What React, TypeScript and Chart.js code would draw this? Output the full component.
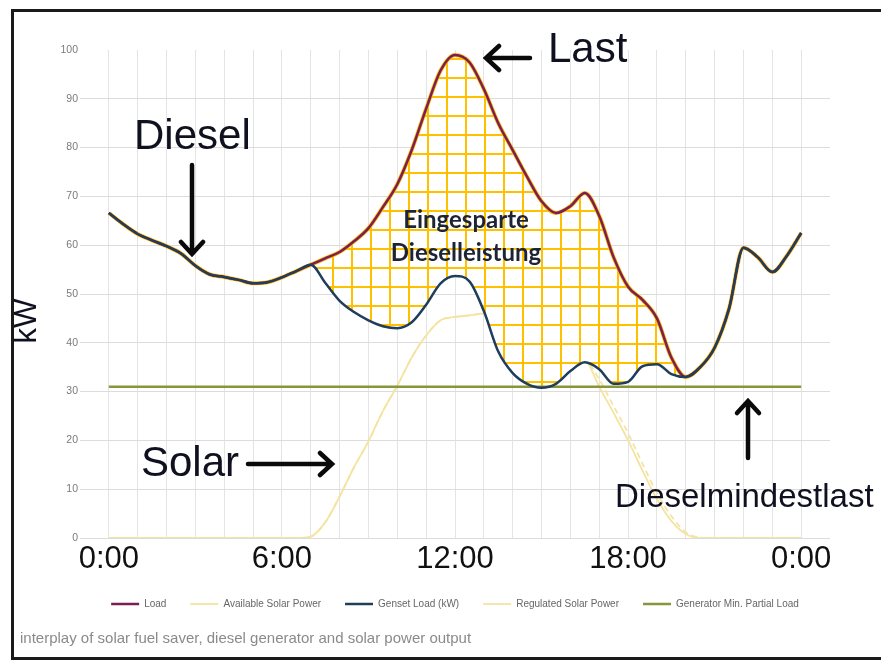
import React, { useEffect, useRef } from 'react';
import { Chart, registerables } from 'chart.js';

Chart.register(...registerables);

// ---- data ----
const hours = [
  0, 0.5, 1, 1.5, 2, 2.5, 3, 3.5, 4, 4.5, 5, 5.5, 6, 6.5, 7, 7.5, 8, 8.5, 9, 9.5,
  10, 10.5, 11, 11.5, 12, 12.5, 13, 13.5, 14, 14.5, 15, 15.5, 16, 16.5, 17, 17.5,
  18, 18.5, 19, 19.5, 20, 20.5, 21, 21.5, 22, 22.5, 23, 23.5, 24,
];

const gensetKw = [
  66.6, 64.3, 62.3, 61.0, 59.8, 58.3, 55.8, 54.0, 53.5, 52.9, 52.2, 52.4, 53.4, 54.7, 56.0, 52.3,
  48.6, 46.3, 44.6, 43.4, 43.0, 44.2, 47.8, 52.2, 53.7, 52.6, 46.5, 38.2, 33.8, 31.6, 30.8, 31.6,
  34.2, 36.0, 34.6, 31.6, 32.0, 35.2, 35.6, 33.6, 33.0, 35.0, 39.0, 47.0, 59.5, 57.5, 54.5, 57.8, 62.5,
];

const loadKw = [
  66.6, 64.3, 62.3, 61.0, 59.8, 58.3, 55.8, 54.0, 53.5, 52.9, 52.2, 52.4, 53.4, 54.7, 56.0, 57.3,
  58.6, 60.8, 63.5, 67.8, 72.5, 79.5, 88.0, 95.8, 99.0, 97.5, 92.0, 85.0, 79.5, 74.0, 69.0, 66.6,
  68.0, 70.7, 66.0, 57.5, 51.5, 48.8, 45.0, 37.0, 33.0, 35.0, 39.0, 47.0, 59.5, 57.5, 54.5, 57.8, 62.5,
];

const availableSolarKw = [
  0, 0, 0, 0, 0, 0, 0, 0, 0, 0, 0, 0, 0, 0, 0.3, 3.2,
  8.5, 14.5, 19.8, 26.0, 31.2, 37.0, 41.5, 44.6, 45.3, 45.6, 46.0, 45.5, 44.5, 43.0, 41.0, 39.3,
  37.8, 36.8, 31.0, 25.6, 20.0, 13.8, 8.0, 3.5, 0.8, 0, 0, 0, 0, 0, 0, 0, 0,
];

const regulatedSolarKw = [
  0, 0, 0, 0, 0, 0, 0, 0, 0, 0, 0, 0, 0, 0, 0.3, 3.2,
  8.5, 14.5, 19.8, 26.0, 31.2, 37.0, 41.5, 44.6, 45.3, 45.6, 46.0, 45.5, 44.5, 43.0, 41.0, 39.3,
  37.8, 36.8, 32.5, 27.0, 21.5, 15.2, 9.2, 4.5, 1.2, 0.1, 0, 0, 0, 0, 0, 0, 0,
];

const minLoadHours = [0, 24];
const minLoadKw = [31, 31];

const xTickHours = [0, 6, 12, 18, 24];
const xTickLabels = ['0:00', '6:00', '12:00', '18:00', '0:00'];

const seriesNames = [
  'Load',
  'Available Solar Power',
  'Genset Load (kW)',
  'Regulated Solar Power',
  'Generator Min. Partial Load',
];

const caption = 'interplay of solar fuel saver, diesel generator and solar power output';

const toXY = (xs: number[], ys: number[]) => ys.map((y, i) => ({ x: xs[i], y }));

function makeHatch(): CanvasPattern | string {
  const c = document.createElement('canvas');
  c.width = 19;
  c.height = 19;
  const g = c.getContext('2d');
  if (!g) return '#FFC000';
  g.fillStyle = '#ffffff';
  g.fillRect(0, 0, 19, 19);
  g.fillStyle = '#FFC000';
  g.fillRect(9, 0, 2, 19);
  g.fillRect(0, 1, 19, 2);
  const p = g.createPattern(c, 'repeat');
  return p || '#FFC000';
}

const SANS = "'Liberation Sans', Arial, sans-serif";

export default function App() {
  const ref = useRef<HTMLCanvasElement | null>(null);

  useEffect(() => {
    if (!ref.current) return;
    const hatch = makeHatch();
    const chart = new Chart(ref.current, {
      type: 'line',
      data: {
        datasets: [
          {
            label: seriesNames[0],
            data: toXY(hours, loadKw),
            borderColor: '#7B1E55',
            borderWidth: 2.5,
            pointRadius: 0,
            cubicInterpolationMode: 'monotone',
            fill: false,
            order: 1,
          },
          {
            label: seriesNames[1],
            data: toXY(hours, availableSolarKw),
            borderColor: '#F4E4A1',
            borderWidth: 1.8,
            pointRadius: 0,
            cubicInterpolationMode: 'monotone',
            fill: false,
            order: 3,
          },
          {
            label: seriesNames[2],
            data: toXY(hours, gensetKw),
            borderColor: '#1F3D5C',
            borderWidth: 2.5,
            pointRadius: 0,
            cubicInterpolationMode: 'monotone',
            fill: false,
            order: 0,
          },
          {
            label: seriesNames[3],
            data: toXY(hours, regulatedSolarKw),
            borderColor: '#F4E4A1',
            borderWidth: 1.8,
            borderDash: [6, 4],
            pointRadius: 0,
            cubicInterpolationMode: 'monotone',
            fill: false,
            order: 3,
          },
          {
            label: seriesNames[4],
            data: toXY(minLoadHours, minLoadKw),
            borderColor: '#88963A',
            borderWidth: 2.5,
            pointRadius: 0,
            fill: false,
            order: 0,
          },
          {
            label: 'Eingesparte Dieselleistung',
            data: toXY(hours, loadKw),
            borderColor: '#FFB800',
            borderWidth: 4,
            pointRadius: 0,
            cubicInterpolationMode: 'monotone',
            backgroundColor: hatch as any,
            fill: { target: 2, above: hatch as any, below: hatch as any },
            order: 2,
          },
        ],
      },
      options: {
        animation: false,
        responsive: false,
        maintainAspectRatio: false,
        layout: { padding: { left: 20, right: 51, top: 50, bottom: 12 } },
        scales: {
          x: {
            type: 'linear',
            min: -1,
            max: 25,
            afterFit: (s: any) => {
              s.height = 37;
            },
            border: { display: false },
            grid: {
              drawTicks: false,
              color: (c: any) =>
                c.tick && (c.tick.value < 0 || c.tick.value > 24) ? 'rgba(0,0,0,0)' : '#e4e4e4',
              lineWidth: 1,
            },
            ticks: {
              stepSize: 1,
              autoSkip: false,
              maxRotation: 0,
              padding: 3,
              color: '#111',
              font: { size: 31, family: SANS },
              callback: (v: any) => {
                const i = xTickHours.indexOf(Number(v));
                return i >= 0 ? xTickLabels[i] : '';
              },
            },
          },
          y: {
            min: 0,
            max: 100,
            afterFit: (s: any) => {
              s.width = 60;
            },
            border: { display: false },
            grid: {
              drawTicks: false,
              color: (c: any) => (c.tick && c.tick.value === 100 ? 'rgba(0,0,0,0)' : '#dcdcdc'),
              lineWidth: 1,
            },
            ticks: {
              stepSize: 10,
              padding: 2,
              color: '#7a7a7a',
              font: { size: 10.5, family: SANS },
            },
          },
        },
        plugins: {
          filler: { drawTime: 'beforeDatasetDraw' } as any,
          tooltip: { enabled: false },
          legend: {
            display: true,
            position: 'bottom',
            fullSize: false,
            labels: {
              usePointStyle: true,
              pointStyle: 'line',
              pointStyleWidth: 28,
              padding: 24,
              color: '#666',
              font: { size: 10, family: SANS },
              filter: (item: any) => item.datasetIndex !== 5,
              sort: (a: any, b: any) => a.datasetIndex - b.datasetIndex,
            },
          },
          title: {
            display: true,
            text: caption,
            position: 'bottom',
            align: 'start',
            color: '#8a8a8a',
            font: { size: 15, family: SANS, weight: 'normal' },
            padding: { top: 11, bottom: 0 },
          },
        },
      } as any,
    });
    return () => chart.destroy();
  }, []);

  const ann: React.CSSProperties = {
    position: 'absolute',
    fontFamily: SANS,
    color: '#0f1020',
    lineHeight: 1,
    whiteSpace: 'nowrap',
  };

  return (
    <div
      style={{
        position: 'fixed',
        left: 0,
        top: 0,
        width: 881,
        height: 660,
        overflow: 'hidden',
        background: '#fff',
      }}
    >
      <canvas ref={ref} width={881} height={660} style={{ position: 'absolute', left: 0, top: 0 }} />
      <div
        style={{
          position: 'absolute',
          left: 11,
          top: 9,
          width: 900,
          height: 645,
          border: '3px solid #1a1a1a',
          borderRight: 'none',
          pointerEvents: 'none',
        }}
      />
      <div style={{ ...ann, left: 548, top: 27, fontSize: 42 }}>Last</div>
      <div style={{ ...ann, left: 134, top: 114, fontSize: 42 }}>Diesel</div>
      <div style={{ ...ann, left: 141, top: 441, fontSize: 42 }}>Solar</div>
      <div style={{ ...ann, left: 615, top: 479, fontSize: 33 }}>Dieselmindestlast</div>
      <div
        style={{
          ...ann,
          left: 326,
          top: 202,
          width: 280,
          textAlign: 'center',
          fontFamily: "Lato, 'Open Sans', sans-serif",
          fontWeight: 700,
          fontSize: 24,
          lineHeight: '33px',
          color: '#1d2435',
        }}
      >
        Eingesparte
        <br />
        Dieselleistung
      </div>
      <div
        style={{
          ...ann,
          left: 25,
          top: 321,
          fontSize: 31,
          transform: 'translate(-50%, -50%) rotate(-90deg)',
        }}
      >
        kW
      </div>
      <svg
        width={881}
        height={660}
        style={{ position: 'absolute', left: 0, top: 0, pointerEvents: 'none' }}
      >
        <g stroke="#0a0a0a" strokeWidth={4.5} fill="none" strokeLinecap="round" strokeLinejoin="miter">
          <path d="M530 58 L487 58 M499 46 L486 58 L499 70" />
          <path d="M192 165 L192 253 M181 242 L192 254 L203 242" />
          <path d="M248 464 L331 464 M320 453 L332 464 L320 475" />
          <path d="M748 458 L748 402 M737 413 L748 401 L759 413" />
        </g>
      </svg>
    </div>
  );
}
